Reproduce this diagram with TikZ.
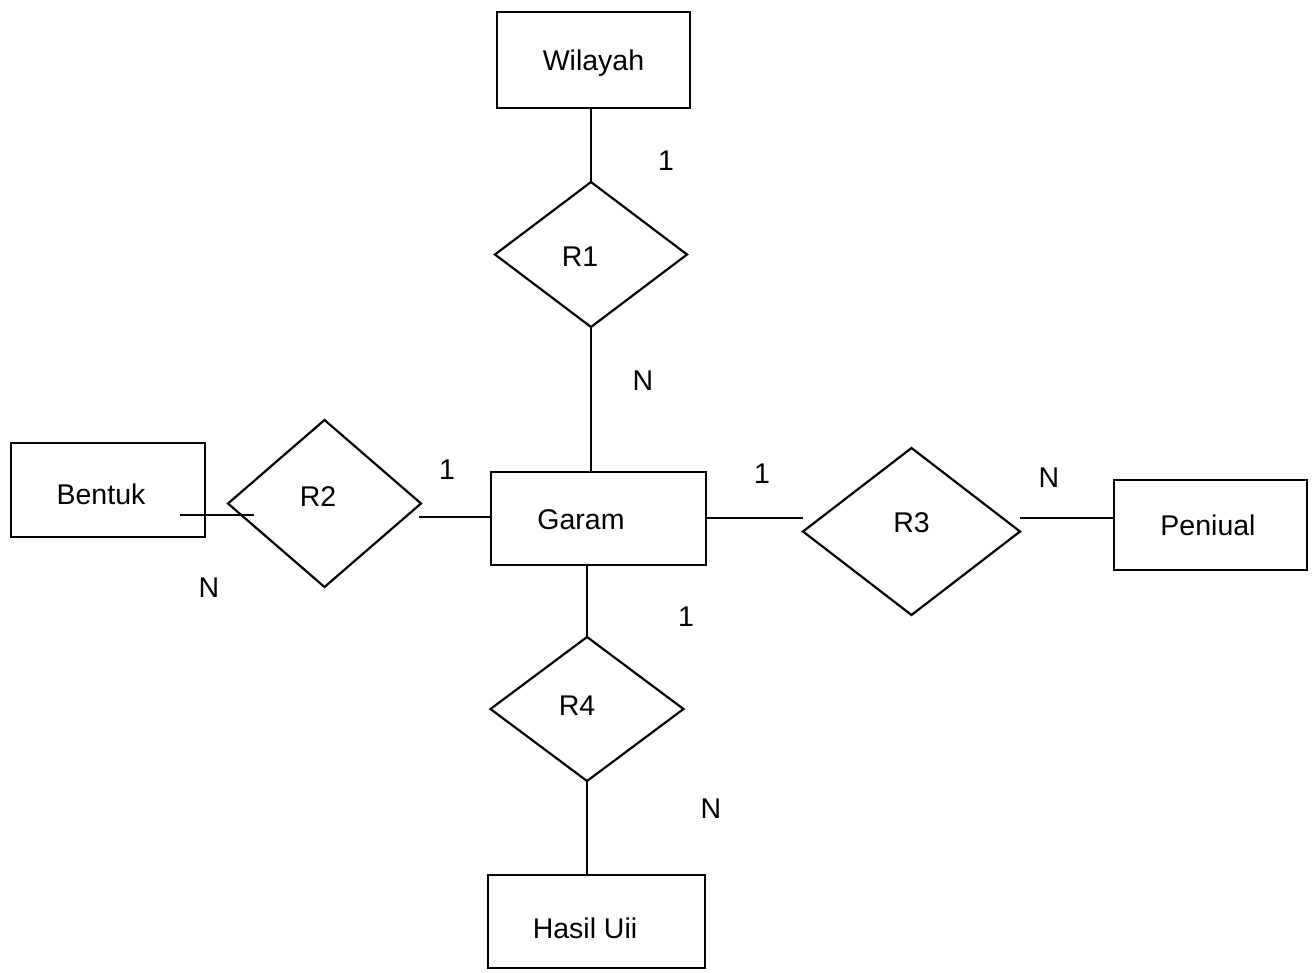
\documentclass[tikz,border=0pt]{standalone}
\usepackage{fontspec}
\setmainfont{Liberation Sans}
\usetikzlibrary{shapes.geometric}
\begin{document}
\begin{tikzpicture}[x=1pt,y=-1pt,
  every node/.style={font=\fontsize{28.5}{30}\selectfont},
  lw/.style={line width=2.2pt},
  entity/.style={draw,lw,rectangle,inner sep=0pt,outer sep=0pt},
  relation/.style={draw,lw,diamond,inner sep=0pt,outer sep=0pt},
  lbl/.style={inner sep=0pt},
  conn/.style={lw}]
\useasboundingbox (0,0) rectangle (1314,972);

% entities
\node[entity,minimum width=193pt,minimum height=96pt,
      label={[lbl,yshift=-3pt]center:Wilayah}] (wilayah) at (593.5,60) {};
\node[entity,minimum width=194pt,minimum height=94pt,
      label={[lbl,xshift=-7pt,yshift=-4pt]center:Bentuk}] (bentuk) at (108,490) {};
\node[entity,minimum width=215pt,minimum height=93pt,
      label={[lbl,xshift=-17.5pt,yshift=-1.5pt]center:Garam}] (garam) at (598.5,518.5) {};
\node[entity,minimum width=193pt,minimum height=90pt,
      label={[lbl,xshift=-2.5pt]center:Peniual}] (peniual) at (1210.5,525) {};
\node[entity,minimum width=217pt,minimum height=93pt,
      label={[lbl,xshift=-11.5pt,yshift=-6.5pt]center:Hasil Uii}] (hasil) at (596.5,921.5) {};

% relationships
\node[relation,minimum width=192pt,minimum height=145pt,
      label={[lbl,xshift=-11pt,yshift=-2pt]center:R1}] (r1) at (591,254.5) {};
\node[relation,minimum width=193pt,minimum height=167pt,
      label={[lbl,xshift=-6.5pt,yshift=6.5pt]center:R2}] (r2) at (324.5,503.5) {};
\node[relation,minimum width=217pt,minimum height=167pt,
      label={[lbl,yshift=9pt]center:R3}] (r3) at (911.5,531.5) {};
\node[relation,minimum width=193pt,minimum height=144pt,
      label={[lbl,xshift=-10pt,yshift=3pt]center:R4}] (r4) at (587,709) {};

% connector end points
\coordinate (bentukin) at (180,515);
\coordinate (r2in) at (254,515);
\coordinate (r2out) at (419,517);
\coordinate (r3in) at (803,518);
\coordinate (r3out) at (1020,518);

% connectors
\draw[conn] (r1.north |- wilayah.south) -- (r1.north);
\draw[conn] (r1.south) -- (r1.south |- garam.north);
\draw[conn] (bentukin) -- (r2in);
\draw[conn] (r2out) -- (r2out -| garam.west);
\draw[conn] (r3in -| garam.east) -- (r3in);
\draw[conn] (r3out) -- (r3out -| peniual.west);
\draw[conn] (r4.north |- garam.south) -- (r4.north);
\draw[conn] (r4.south) -- (r4.south |- hasil.north);

% cardinalities
\node[lbl] (c1a) at (666,161) {1};
\node[lbl] (c1b) at (643,381) {N};
\node[lbl] (c2a) at (447,470) {1};
\node[lbl] (c2b) at (209,588) {N};
\node[lbl] (c3a) at (762,474) {1};
\node[lbl] (c3b) at (1049,478) {N};
\node[lbl] (c4a) at (686,617) {1};
\node[lbl] (c4b) at (711,809) {N};
\end{tikzpicture}
\end{document}
